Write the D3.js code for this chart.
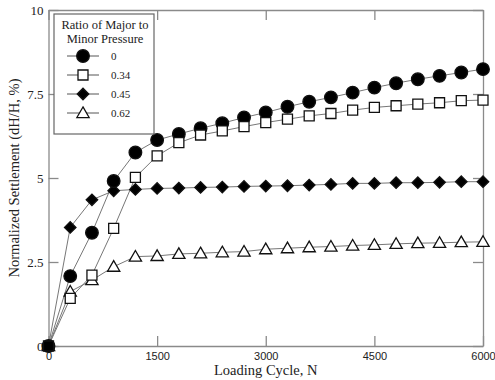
<!DOCTYPE html>
<html>
<head>
<meta charset="utf-8">
<script src="https://cdn.jsdelivr.net/npm/d3@7"></script>
<style>
  body { margin: 0; background: #fff; }
  .chart { width: 495px; height: 380px; }
</style>
</head>
<body>
<div class="chart"></div>
<script>
var cycles = [0, 300, 600, 900, 1200, 1500, 1800, 2100, 2400, 2700, 3000,
              3300, 3600, 3900, 4200, 4500, 4800, 5100, 5400, 5700, 6000];

var ratio0 = [0, 2.08, 3.37, 4.91, 5.76, 6.13, 6.31, 6.48, 6.63, 6.80, 6.95,
              7.12, 7.27, 7.40, 7.54, 7.69, 7.82, 7.94, 8.04, 8.14, 8.24];
var ratio034 = [0, 1.42, 2.11, 3.50, 5.02, 5.66, 6.05, 6.28, 6.40, 6.53, 6.65,
                6.75, 6.85, 6.92, 7.02, 7.10, 7.15, 7.20, 7.24, 7.30, 7.32];
var ratio045 = [0, 3.53, 4.35, 4.62, 4.66, 4.69, 4.70, 4.72, 4.73, 4.75, 4.76,
                4.77, 4.79, 4.81, 4.84, 4.84, 4.86, 4.86, 4.87, 4.89, 4.89];
var ratio062 = [0, 1.62, 1.96, 2.36, 2.66, 2.68, 2.74, 2.76, 2.79, 2.81, 2.88,
                2.91, 2.94, 2.96, 2.99, 3.01, 3.04, 3.06, 3.07, 3.09, 3.10];

var seriesNames = ["0", "0.34", "0.45", "0.62"];
var seriesValues = [ratio0, ratio034, ratio045, ratio062];
var seriesShapes = ["circle", "square", "diamond", "triangle"];

var xTicks = [0, 1500, 3000, 4500, 6000];
var yTicks = [0, 2.5, 5, 7.5, 10];
var legendTitle = ["Ratio of Major to", "Minor Pressure"];

var w = 495, h = 380;
var plotLeft = 48.5, plotRight = 483, plotTop = 10, plotBottom = 346;

var x_scale = d3.scaleLinear().domain([0, 6000]).range([plotLeft, plotRight]);
var y_scale = d3.scaleLinear().domain([0, 10]).range([plotBottom, plotTop]);

var svg = d3.select(".chart").append("svg")
            .attr("width", w)
            .attr("height", h);

var axisColor = "#8a8a8a";
var serif = "Liberation Serif";
var sans = "Liberation Sans";

// frame + inward ticks
function styleAxis(g) {
  g.attr("font-family", null);
  g.select(".domain").attr("stroke", axisColor).attr("stroke-width", 1.3);
  g.selectAll(".tick line").attr("stroke", axisColor).attr("stroke-width", 1.3);
}

svg.append("g")
   .attr("transform", "translate(0," + plotBottom + ")")
   .call(d3.axisBottom(x_scale).tickValues(xTicks).tickSizeInner(-10).tickSizeOuter(0).tickPadding(4).tickFormat(d3.format("d")))
   .call(styleAxis)
   .call(function(g) {
     g.selectAll(".tick text").style("font-family", sans).style("font-size", "11px").attr("fill", "#222")
      .attr("y", 6);
   });

svg.append("g")
   .attr("transform", "translate(0," + plotTop + ")")
   .call(d3.axisTop(x_scale).tickValues(xTicks).tickSizeInner(-10).tickSizeOuter(0).tickFormat(""))
   .call(styleAxis);

svg.append("g")
   .attr("transform", "translate(" + plotLeft + ",0)")
   .call(d3.axisLeft(y_scale).tickValues(yTicks).tickSizeInner(-10).tickSizeOuter(0).tickPadding(4).tickFormat(d3.format("")))
   .call(styleAxis)
   .call(function(g) {
     g.selectAll(".tick text").style("font-family", serif).style("font-size", "13px").attr("fill", "#222")
      .attr("x", -5);
   });

svg.append("g")
   .attr("transform", "translate(" + plotRight + ",0)")
   .call(d3.axisRight(y_scale).tickValues(yTicks).tickSizeInner(-10).tickSizeOuter(0).tickFormat(""))
   .call(styleAxis);

// axis titles
svg.append("text")
   .attr("x", (plotLeft + plotRight) / 2)
   .attr("y", 375)
   .attr("text-anchor", "middle")
   .style("font-family", serif)
   .style("font-size", "14.5px")
   .attr("fill", "#222")
   .text("Loading Cycle, N");

svg.append("text")
   .attr("transform", "translate(19," + ((plotTop + plotBottom) / 2) + ") rotate(-90)")
   .attr("text-anchor", "middle")
   .style("font-family", serif)
   .style("font-size", "14.5px")
   .attr("fill", "#222")
   .text("Normalized Settlement (dH/H, %)");

// markers
var symbolFor = {
  circle: d3.symbol().type(d3.symbolCircle).size(125),
  square: d3.symbol().type(d3.symbolSquare).size(100),
  diamond: d3.symbol().type(d3.symbolSquare).size(66),
  triangle: d3.symbol().type(d3.symbolTriangle).size(65)
};
var filled = { circle: true, square: false, diamond: true, triangle: false };

function drawMarker(g, shape, originPoint) {
  var solid = filled[shape] || originPoint;
  var tr = null;
  if (shape === "triangle") tr = "translate(0,1)";
  if (shape === "diamond") tr = "rotate(45)";
  g.append("path")
   .attr("d", symbolFor[shape]())
   .attr("transform", tr)
   .attr("fill", solid ? "#000" : "#fff")
   .attr("stroke", "#111")
   .attr("stroke-width", 1.3);
}

var line = d3.line()
    .x(function(d) { return x_scale(d.x); })
    .y(function(d) { return y_scale(d.y); });

var order = [3, 2, 0, 1];
order.forEach(function(s) {
  var data_xy = [];
  for (var i = 0; i < cycles.length; i++) {
    data_xy.push({x: cycles[i], y: seriesValues[s][i]});
  }
  svg.append("path")
     .attr("d", line(data_xy))
     .attr("fill", "none")
     .attr("stroke", "#777")
     .attr("stroke-width", 1);
});

order.forEach(function(s) {
  cycles.forEach(function(c, i) {
    var g = svg.append("g")
       .attr("transform", "translate(" + x_scale(c) + "," + y_scale(seriesValues[s][i]) + ")");
    drawMarker(g, seriesShapes[s], i === 0);
  });
});

// legend
var lg = svg.append("g").attr("transform", "translate(54,14)");
lg.append("rect")
  .attr("width", 100)
  .attr("height", 120)
  .attr("fill", "#fff")
  .attr("stroke", "#666")
  .attr("stroke-width", 1.2);

legendTitle.forEach(function(t, i) {
  lg.append("text")
    .attr("x", 51)
    .attr("y", 15 + i * 14)
    .attr("text-anchor", "middle")
    .style("font-family", serif)
    .style("font-size", "12.5px")
    .attr("fill", "#222")
    .text(t);
});

seriesNames.forEach(function(name, s) {
  var yy = 42 + s * 19;
  var row = lg.append("g").attr("transform", "translate(0," + yy + ")");
  row.append("line")
     .attr("x1", 13).attr("x2", 45)
     .attr("stroke", "#555").attr("stroke-width", 1);
  var m = row.append("g").attr("transform", "translate(29,0)");
  drawMarker(m, seriesShapes[s], false);
  row.append("text")
     .attr("x", 57)
     .attr("y", 4)
     .style("font-family", serif)
     .style("font-size", "11px")
     .attr("fill", "#222")
     .text(name);
});
</script>
</body>
</html>
